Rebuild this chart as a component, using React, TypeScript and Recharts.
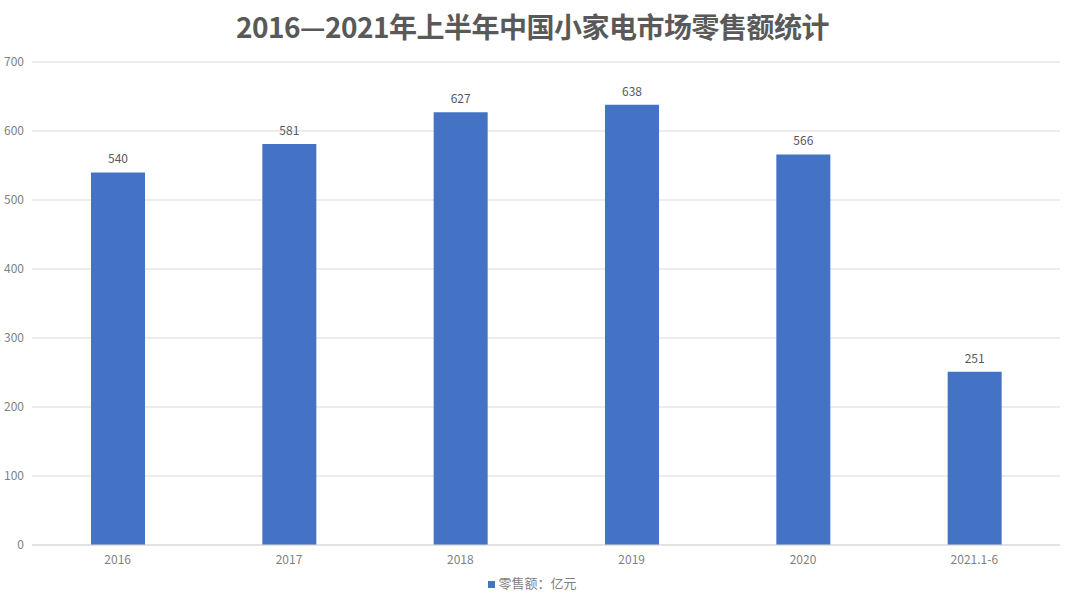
import { Bar, BarChart, CartesianGrid, LabelList, XAxis, YAxis } from "recharts";

const years = ["2016", "2017", "2018", "2019", "2020", "2021.1-6"];
const retail = [540, 581, 627, 638, 566, 251];
const yTicks = [0, 100, 200, 300, 400, 500, 600, 700];

const data = years.map((year, i) => ({ year, retail: retail[i] }));

const font = "'Noto Sans CJK SC', 'Noto Sans', sans-serif";

export default function App() {
  return (
    <div
      style={{
        position: "absolute",
        left: 0,
        top: 0,
        width: 1065,
        height: 596,
        background: "#fff",
        fontFamily: font,
      }}
    >
      <div
        style={{
          position: "absolute",
          top: 6,
          left: 0,
          width: 1065,
          textAlign: "center",
          fontSize: 28,
          fontWeight: 700,
          color: "#595959",
          letterSpacing: -0.5,
        }}
      >
        2016—2021年上半年中国小家电市场零售额统计
      </div>
      <BarChart
        width={1065}
        height={596}
        data={data}
        margin={{ top: 62, right: 5, bottom: 21, left: 0 }}
      >
        <CartesianGrid vertical={false} stroke="#d9d9d9" />
        <XAxis
          dataKey="year"
          height={30}
          dy={2}
          tick={{ fill: "#7f7f7f", fontSize: 12, fontFamily: font }}
          tickLine={false}
          axisLine={{ stroke: "#d9d9d9" }}
        />
        <YAxis
          width={32}
          domain={[0, 700]}
          ticks={yTicks}
          tick={{ fill: "#7f7f7f", fontSize: 12, fontFamily: font }}
          tickLine={false}
          axisLine={false}
        />
        <Bar dataKey="retail" fill="#4472c4" barSize={54} isAnimationActive={false}>
          <LabelList
            dataKey="retail"
            position="top"
            offset={9}
            style={{ fill: "#595959", fontSize: 12, fontFamily: font }}
          />
        </Bar>
      </BarChart>
      <div
        style={{
          position: "absolute",
          top: 573,
          left: 0,
          width: 1065,
          textAlign: "center",
          fontSize: 13,
          color: "#7f7f7f",
        }}
      >
        <span
          style={{
            display: "inline-block",
            width: 7,
            height: 7,
            background: "#4472c4",
            marginRight: 3,
            verticalAlign: "middle",
          }}
        />
        零售额：亿元
      </div>
    </div>
  );
}
